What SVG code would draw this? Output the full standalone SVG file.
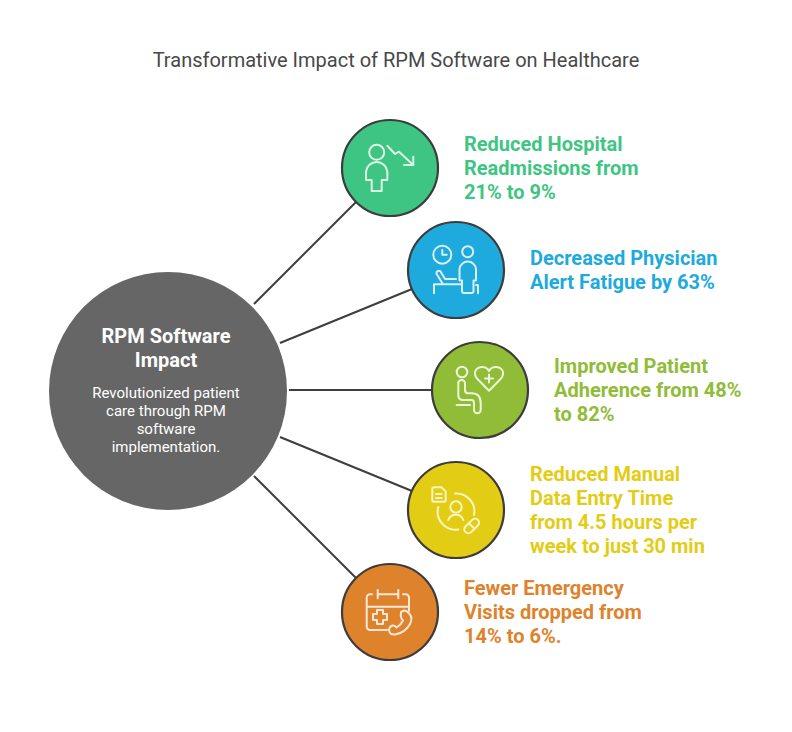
<svg xmlns="http://www.w3.org/2000/svg" width="792" height="732" viewBox="0 0 792 732">
<style>
text{font-family:Roboto,"Liberation Sans",sans-serif}
.t{font-size:20px;fill:#484848;text-anchor:middle}
.l{font-size:20px;font-weight:700}
.c{fill:#fff;text-anchor:middle}
.n{stroke:#3c3c3c;stroke-width:2.2}
.i{fill:none;stroke-width:2;stroke-linecap:round;stroke-linejoin:round}
.w{stroke:#3e3e3e;stroke-width:2;fill:none}
</style>
<rect width="792" height="732" fill="#fff"/>
<text class="t" x="396" y="67">Transformative Impact of RPM Software on Healthcare</text>
<g id="connectors" class="w">
<line x1="254" y1="304" x2="356" y2="202"/>
<line x1="280" y1="343" x2="412" y2="289"/>
<line x1="289" y1="390" x2="432" y2="390"/>
<line x1="280" y1="437" x2="412" y2="491"/>
<line x1="254" y1="476" x2="356" y2="578"/>
</g>
<g id="center">
<circle cx="168" cy="391" r="119" fill="#666666"/>
<text class="c" x="166" y="343" font-size="20" font-weight="700">RPM Software</text>
<text class="c" x="166" y="367" font-size="20" font-weight="700">Impact</text>
<text class="c" x="166" y="398" font-size="15">Revolutionized patient</text>
<text class="c" x="166" y="416" font-size="15">care through RPM</text>
<text class="c" x="166" y="434" font-size="15">software</text>
<text class="c" x="166" y="452" font-size="15">implementation.</text>
</g>
<g id="node1">
<circle class="n" cx="390" cy="168" r="48" fill="#3fc583"/>
<g class="i" stroke="#dcf6e6">
<circle cx="376.7" cy="152.3" r="7.5"/>
<path d="M371.7 191H381.7V180H387.3V171.7A10.7 10.7 0 0 0 366 171.7V180H371.7Z"/>
<path d="M387.3 145.7L395 154L399 151.7L413.3 165M413.3 156.7V165H404"/>
</g>
<text class="l" fill="#3fc583"><tspan x="464" y="151">Reduced Hospital</tspan><tspan x="464" y="175">Readmissions from</tspan><tspan x="464" y="199">21% to 9%</tspan></text>
</g>
<g id="node2">
<circle class="n" cx="456" cy="270" r="48" fill="#1eaadd"/>
<g class="i" stroke="#d8f1fa">
<circle cx="442.3" cy="254.7" r="9"/>
<path d="M442.3 250V254.7H446.7"/>
<circle cx="467.7" cy="251.7" r="5.5"/>
<path d="M464 293H471.500A2 2 0 0 0 473.500 291V280.500H476V269A8.300 8.300 0 0 0 459.500 269V280.500H462V291A2 2 0 0 0 464 293Z"/>
<path d="M434 293.300V284.300H462M456 279H445L440.500 271.500A2.400 2.400 0 0 0 436.500 273.800L443 284.300M478 293.300V285H476"/>
</g>
<text class="l" fill="#1eaadd"><tspan x="530" y="265">Decreased Physician</tspan><tspan x="530" y="289">Alert Fatigue by 63%</tspan></text>
</g>
<g id="node3">
<circle class="n" cx="480" cy="390" r="48" fill="#90bc38"/>
<g class="i" stroke="#eef6da">
<circle cx="462" cy="372" r="5.300"/>
<path d="M458.300 382V395Q458.300 400 463.300 400H471.700Q474 400 474 403.300V410A3.300 3.300 0 0 0 480.700 410V403.300Q480.700 393.300 471.700 393.300H468.300Q465 393.300 465 390V383.300A3.300 3.300 0 0 0 458.300 383.300"/>
<path d="M456.700 405H470"/>
<path d="M489 390.700L477 378.500C472 372 477 367 482 367C485.500 367 488 369 489 371C490 369 492.500 367 496 367C501 367 506 372 501 378.500Z"/>
<path d="M489 374.500V382.500M485 378.500H493"/>
</g>
<text class="l" fill="#90bc38"><tspan x="554" y="373">Improved Patient</tspan><tspan x="554" y="397">Adherence from 48%</tspan><tspan x="554" y="421">to 82%</tspan></text>
</g>
<g id="node4">
<circle class="n" cx="456" cy="510" r="48" fill="#e3cd14"/>
<g class="i" stroke="#fbf5c4">
<path d="M434 487.300H441.500L445.700 491.500V500A1.700 1.700 0 0 1 444 501.700H434A1.700 1.700 0 0 1 432.300 500V489A1.700 1.700 0 0 1 434 487.300Z"/>
<path d="M436 494H441.700M436 498H441.700"/>
<circle cx="456" cy="507" r="5.700"/>
<path d="M448.300 520A8 8 0 0 1 463.300 520"/>
<path d="M455 493.500A18 18 0 0 1 474 515M438.300 507A18 18 0 0 0 458.300 529.500"/>
<g transform="rotate(-45 471.700 526)"><rect x="463" y="522" width="17.400" height="8" rx="4"/><path d="M471.700 522V530"/></g>
</g>
<text class="l" fill="#e3cd14"><tspan x="530" y="481">Reduced Manual</tspan><tspan x="530" y="505">Data Entry Time</tspan><tspan x="530" y="529">from 4.5 hours per</tspan><tspan x="530" y="553">week to just 30 min</tspan></text>
</g>
<g id="node5">
<circle class="n" cx="390" cy="612" r="48" fill="#de832c"/>
<g class="i" stroke="#fbe8d6">
<path d="M377.700 590V598.300M398.300 590V598.300M377.700 594.300H398.300M372 594.300H370A3.300 3.300 0 0 0 366.700 597.600V626.700A3.300 3.300 0 0 0 370 630H387M403 594.300H405.700A3.300 3.300 0 0 1 409 597.600V611M366.700 606.700H409"/>
<path d="M377 610H383V614H387V620H383V624H377V620H373V614H377Z"/>
<path d="M401 612L404 610.500Q407 610.500 409.500 614Q413 618 410 624Q405 633 395 634.500Q389 635 389 629.500Q389.500 626.500 392.500 625.500Q395 625 396.500 627.500Q401 625 403 620.500Q400 618 401 612Z"/>
</g>
<text class="l" fill="#de832c"><tspan x="464" y="595">Fewer Emergency</tspan><tspan x="464" y="619">Visits dropped from</tspan><tspan x="464" y="643">14% to 6%.</tspan></text>
</g>
</svg>
